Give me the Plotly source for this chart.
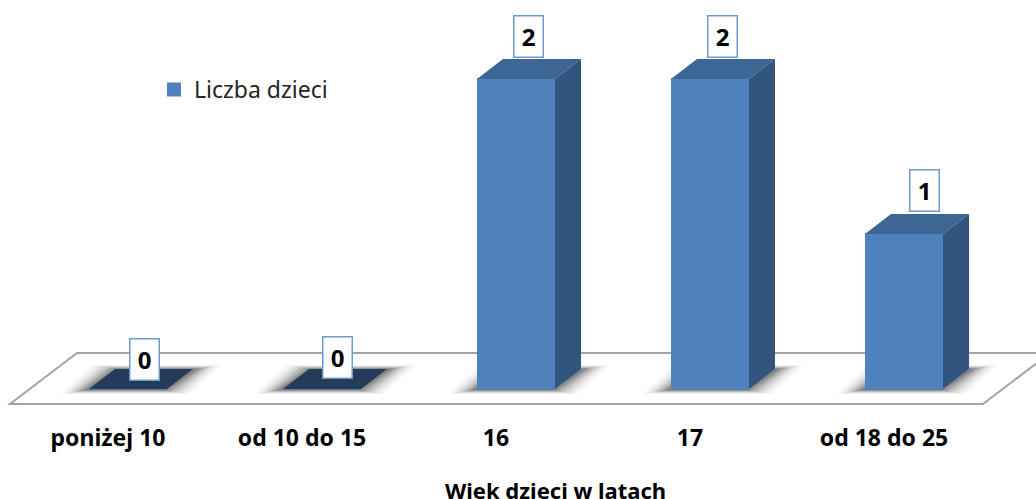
import plotly.graph_objects as go

categories = ["poniżej 10", "od 10 do 15", "16", "17", "od 18 do 25"]
values = [0, 0, 2, 2, 1]
series_name = "Liczba dzieci"
axis_title = "Wiek dzieci w latach"

W, H = 1036, 499
BOTTOM = 84
PX_X = 194.0      # pixels per category
PX_Y = 155.0      # pixels per unit
X0 = 108.0        # pixel of first tick
Y0 = 389.0        # pixel of value 0
BAR_PX = 78.0
SHIFT_PX = 20.0   # bars sit to the right of their tick, as in the 3D projection
DX = 26.0 / PX_X
DY = 20.0 / PX_Y
BW = BAR_PX / PX_X
OFF = SHIFT_PX / PX_X - BW / 2

xr = [-X0 / PX_X, (W - X0) / PX_X]
yr = [(Y0 - (H - BOTTOM)) / PX_Y, Y0 / PX_Y]
xs = list(range(len(categories)))

FRONT = "#4f81bd"
SIDE = "#325580"
TOP = "#3c6693"
TOP_ZERO = "#243c59"

fig = go.Figure()
fig.add_trace(go.Bar(x=xs, y=values, width=BW - 2 / PX_X, offset=OFF + 1 / PX_X,
                     marker=dict(color=FRONT, line=dict(width=2, color=FRONT)),
                     name=series_name, showlegend=True))


def poly(points, color):
    px, py = zip(*(points + [points[0]]))
    fig.add_trace(go.Scatter(x=px, y=py, mode="lines", fill="toself", fillcolor=color,
                             line=dict(width=0, color=color), showlegend=False, hoverinfo="skip"))


for i, v in zip(xs, values):
    l = i + OFF
    r = l + BW
    poly([(l, v), (r, v), (r + DX, v + DY), (l + DX, v + DY)], TOP if v > 0 else TOP_ZERO)
    if v > 0:
        poly([(r, 0), (r + DX, DY), (r + DX, v + DY), (r, v)], SIDE)

shapes = []


def path(points):
    return "M " + " L ".join(f"{a:.4f},{b:.4f}" for a, b in points) + " Z"


# floor
shapes.append(dict(type="path", layer="below", xref="x", yref="y",
                   path=path([(xr[0] + 10 / PX_X, -15 / PX_Y), (xr[0] + 77 / PX_X, 36 / PX_Y),
                              (xr[0] + 1050 / PX_X, 36 / PX_Y), (xr[0] + 983 / PX_X, -15 / PX_Y)]),
                   line=dict(color="#a3a3a3", width=2), fillcolor="white"))
# soft shadows
LAYERS = 14
for k in range(LAYERS):
    ex = (LAYERS - k) * 1.9 / PX_X
    ey = (LAYERS - k) * 0.3 / PX_Y
    alpha = 0.018 + 0.13 * ((k + 1) / LAYERS) ** 2
    for i in xs:
        l = i + OFF - ex
        r = i + OFF + BW + ex
        shapes.append(dict(type="path", layer="below", xref="x", yref="y",
                           path=path([(l - 3 / PX_X, -ey - 1 / PX_Y), (r - 3 / PX_X, -ey - 1 / PX_Y),
                                      (r + DX + 3 / PX_X, DY + ey), (l + DX + 3 / PX_X, DY + ey)]),
                           line=dict(width=0), fillcolor=f"rgba(60,60,60,{alpha:.3f})"))

label_dx = [16, 15, 12, 12, 20]
label_dy = [30, 32, 43, 43, 44]
annotations = []
for i, v, sx, sy in zip(xs, values, label_dx, label_dy):
    annotations.append(dict(x=i + OFF + BW / 2, y=v, xref="x", yref="y", text=str(v), showarrow=False,
                            xshift=sx, yshift=sy, width=28, height=40, bgcolor="white",
                            bordercolor="#6f98cf", borderwidth=1.5, borderpad=0, valign="middle",
                            font=dict(family="Noto Sans", size=24, color="black", weight="bold")))
annotations.append(dict(x=555 / W, y=-(490 - (H - BOTTOM)) / (H - BOTTOM), xref="paper", yref="paper",
                        yanchor="middle", text=axis_title, showarrow=False,
                        font=dict(family="Noto Sans", size=22, color="black", weight="bold")))

fig.update_layout(
    width=W, height=H, margin=dict(l=0, r=0, t=0, b=BOTTOM),
    paper_bgcolor="white", plot_bgcolor="white",
    shapes=shapes, annotations=annotations,
    showlegend=True,
    legend=dict(x=154 / W, y=1 - 68 / (H - BOTTOM), xanchor="left", yanchor="top", bgcolor="rgba(0,0,0,0)",
                font=dict(family="Noto Sans", size=23, color="#262626"), itemwidth=30),
    xaxis=dict(range=xr, tickvals=xs, ticktext=categories, showgrid=False, zeroline=False, showline=False,
               ticks="", ticklabelstandoff=7,
               tickfont=dict(family="Noto Sans", size=23, color="black", weight="bold")),
    yaxis=dict(range=yr, visible=False, showgrid=False, zeroline=False),
)
fig.write_html("out.html", config=dict(displayModeBar=False),
               post_script="document.body.style.margin='0';document.documentElement.style.overflow='hidden';")
